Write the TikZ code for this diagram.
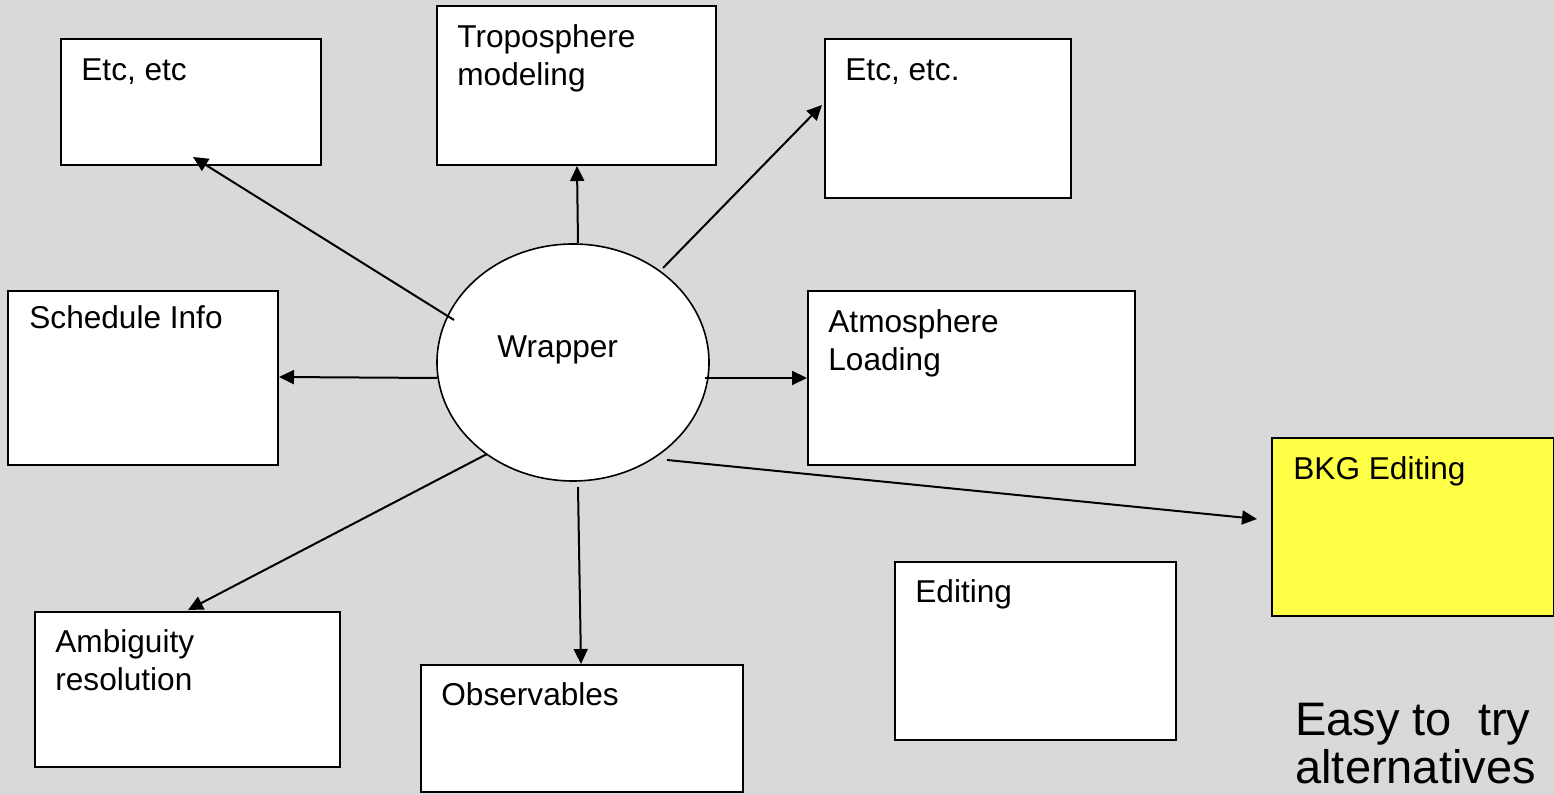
\documentclass[tikz,border=0pt]{standalone}
\usepackage{fontspec}
\setmainfont{Liberation Sans}
\usetikzlibrary{arrows.meta,shapes.geometric}
\definecolor{bg}{RGB}{217,217,217}
\definecolor{ylw}{RGB}{255,255,70}
\tikzset{
  box/.style={draw=black, line width=1pt, fill=white, inner sep=0pt},
  txt/.style={anchor=base west, inner sep=0pt, align=left, font=\fontsize{15.8}{19}\selectfont},
  conn/.style={line width=1pt, -{Triangle[length=7.5pt,width=7pt]}}
}
\begin{document}
\begin{tikzpicture}[x=0.5pt,y=-0.5pt]
\useasboundingbox (0,0) rectangle (1554,795);
\fill[bg] (0,0) rectangle (1554,795);
% boxes
\node[box, minimum width=130pt, minimum height=63pt] (b1) at (191,102) {};
\node[box, minimum width=139.5pt, minimum height=79.5pt] (b2) at (576.5,85.5) {};
\node[box, minimum width=123pt, minimum height=79.5pt] (b3) at (948,118.5) {};
\node[box, minimum width=135pt, minimum height=87pt] (b4) at (143,378) {};
\node[box, minimum width=163.5pt, minimum height=87pt] (b5) at (971.5,378) {};
\node[box, fill=ylw, minimum width=141pt, minimum height=89pt] (b6) at (1413,527) {};
\node[box, minimum width=152.5pt, minimum height=77.5pt] (b7) at (187.5,689.5) {};
\node[box, minimum width=161pt, minimum height=63.5pt] (b8) at (582,728.5) {};
\node[box, minimum width=140.5pt, minimum height=89pt] (b9) at (1035.5,651) {};
% ellipse
\node[draw=black, line width=0.8pt, fill=white, ellipse, minimum width=136pt, minimum height=118.5pt, inner sep=0pt] (w) at (573,362.5) {};
% texts (multi-line nodes: anchor at last line's baseline)
\node[txt] (t1) at (81,81) {Etc, etc};
\node[txt] (t2) at (457,86) {Troposphere\\modeling};
\node[txt] (t3) at (845,81) {Etc, etc.};
\node[txt] (t4) at (29,329) {Schedule Info};
\node[txt] (t5) at (828,371) {Atmosphere\\Loading};
\node[txt] (t6) at (1293,480) {BKG Editing};
\node[txt] (t7) at (55,691) {Ambiguity\\resolution};
\node[txt] (t8) at (441,706) {Observables};
\node[txt] (t9) at (915,603) {Editing};
\node[txt] (tw) at (497,358) {Wrapper};
\node[txt, font=\fontsize{23.5}{24}\selectfont] (te) at (1295,784) {Easy to\ \ try\\alternatives};
% connector end points
\coordinate (s1) at (454,320); \coordinate (e1) at (193,157);
\coordinate (s2) at (578,243); \coordinate (e2) at (577,166);
\coordinate (s3) at (663,268); \coordinate (e3) at (822,105);
\coordinate (s4) at (437,378); \coordinate (e4) at (279,377);
\coordinate (s5) at (705,378); \coordinate (e5) at (807,378);
\coordinate (s6) at (667,460); \coordinate (e6) at (1257,519);
\coordinate (s7) at (487,454); \coordinate (e7) at (188,610);
\coordinate (s8) at (578,487); \coordinate (e8) at (581,664);
\draw[conn] (s1) -- (e1);
\draw[conn] (s2) -- (e2);
\draw[conn] (s3) -- (e3);
\draw[conn] (s4) -- (e4);
\draw[conn] (s5) -- (e5);
\draw[conn] (s6) -- (e6);
\draw[conn] (s7) -- (e7);
\draw[conn] (s8) -- (e8);
\end{tikzpicture}
\end{document}
